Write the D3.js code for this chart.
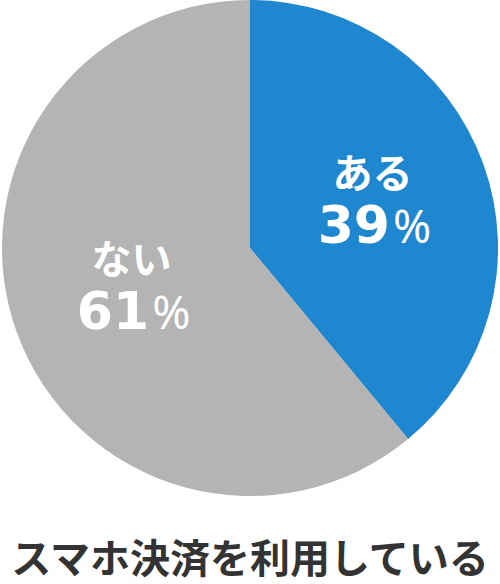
<!DOCTYPE html>
<html>
<head>
<meta charset="utf-8">
<script src="https://cdn.jsdelivr.net/npm/d3@7"></script>
<style>
  body { margin: 0; background: #fff; }
  svg { display: block; }
  text { font-family: "Noto Sans CJK JP", sans-serif; font-weight: bold; }
</style>
</head>
<body>
<div id="chart"></div>
<script>
var labels = ["ある", "ない"];
var values = [39, 61];
var colors = ["#1e87d0", "#b4b4b4"];
var title = "スマホ決済を利用している";

var width = 500, height = 584;
var cx = 250, cy = 248, radius = 248;

var svg = d3.select("#chart").append("svg")
    .attr("width", width)
    .attr("height", height);

var data = labels.map(function(l, i){
    return {label: l, value: values[i], color: colors[i]};
});

var pie = d3.pie().sort(null).value(d => d.value);
var arc = d3.arc().innerRadius(0).outerRadius(radius);
// label anchor a bit inside half radius
var labelArc = d3.arc().innerRadius(128).outerRadius(128);

var g = svg.append("g")
    .attr("transform", "translate(" + cx + "," + cy + ")");

var slices = g.selectAll(".slice")
    .data(pie(data))
    .enter().append("g")
    .attr("class", "slice");

slices.append("path")
    .attr("d", arc)
    .attr("fill", d => d.data.color);

slices.each(function(d){
    var c = labelArc.centroid(d);
    var t = d3.select(this);
    t.append("text")
        .attr("x", c[0] + 2)
        .attr("y", c[1] - 17)
        .attr("text-anchor", "middle")
        .style("font-size", "40px")
        .style("fill", "#fff")
        .text(d.data.label);
    var v = t.append("text")
        .attr("x", c[0] + 4)
        .attr("y", c[1] + 38)
        .attr("text-anchor", "middle")
        .style("fill", "#fff");
    v.append("tspan")
        .style("font-family", "'DejaVu Sans', sans-serif")
        .style("font-size", "52px")
        .text(d.data.value);
    v.append("tspan")
        .attr("dx", 3)
        .style("font-family", "'Noto Sans', sans-serif")
        .style("font-weight", "normal")
        .style("font-size", "46px")
        .text("%");
});

svg.append("text")
    .attr("x", width / 2)
    .attr("y", 573)
    .attr("text-anchor", "middle")
    .style("font-size", "40px")
    .style("fill", "#333")
    .text(title);
</script>
</body>
</html>
